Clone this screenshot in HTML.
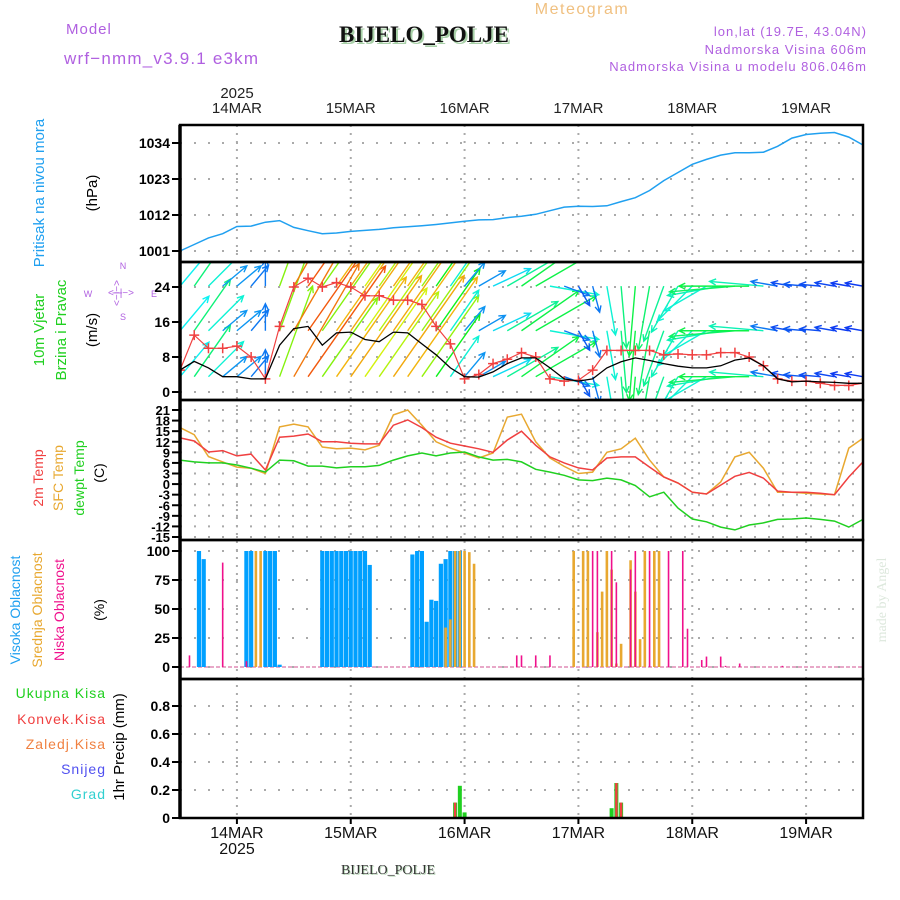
<!DOCTYPE html>
<html><head><meta charset="utf-8">
<style>
html,body{margin:0;padding:0;background:#fff;}
#wrap{position:relative;width:900px;height:900px;overflow:hidden;font-family:"Liberation Sans",sans-serif;}
svg{position:absolute;left:0;top:0;}
</style></head>
<body>
<div id="wrap">
<svg id="chart" width="900" height="900" viewBox="0 0 900 900" font-family="Liberation Sans, sans-serif">
  <defs>
    <clipPath id="clipWind"><rect x="180" y="262" width="683" height="138"/></clipPath>
  </defs>
  <text x="66" y="34" font-size="15" fill="#b060e0" letter-spacing="1">Model</text>
  <text x="64" y="64" font-size="17" fill="#b060e0" letter-spacing="1.2">wrf−nmm_v3.9.1 e3km</text>
  <text x="582" y="14" font-size="16" fill="#f0c080" text-anchor="middle" letter-spacing="1.5">Meteogram</text>
  <text x="426" y="44" font-size="23" font-weight="bold" font-family="Liberation Serif, serif" fill="#a8d0a8" text-anchor="middle">BIJELO_POLJE</text>
  <text x="424" y="42" font-size="23" font-weight="bold" font-family="Liberation Serif, serif" fill="#111" text-anchor="middle">BIJELO_POLJE</text>
  <text x="867" y="36" font-size="13" fill="#b060e0" text-anchor="end" letter-spacing="1">lon,lat (19.7E, 43.04N)</text>
  <text x="867" y="54" font-size="13" fill="#b060e0" text-anchor="end" letter-spacing="1">Nadmorska Visina 606m</text>
  <text x="867" y="71" font-size="13" fill="#b060e0" text-anchor="end" letter-spacing="1">Nadmorska Visina u modelu 806.046m</text>
  <text x="237" y="98" font-size="15" fill="#222" text-anchor="middle">2025</text>

  <text transform="translate(44,193) rotate(-90)" font-size="15" fill="#20a0f0" text-anchor="middle">Pritisak na nivou mora</text>
  <text transform="translate(97,193) rotate(-90)" font-size="15" fill="#000" text-anchor="middle">(hPa)</text>
  <text transform="translate(44,330) rotate(-90)" font-size="15" fill="#20d020" text-anchor="middle">10m Vjetar</text>
  <text transform="translate(66,330) rotate(-90)" font-size="15" fill="#20d020" text-anchor="middle">Brzina i Pravac</text>
  <text transform="translate(97,330) rotate(-90)" font-size="15" fill="#000" text-anchor="middle">(m/s)</text>
  <g fill="#b060e0" font-size="9" text-anchor="middle">
    <text x="123" y="269">N</text><text x="123" y="320">S</text><text x="88" y="297">W</text><text x="154" y="297">E</text>
    <text transform="translate(120,293) rotate(-90)" font-size="10">&lt;−|−&gt;</text>
    <text x="121" y="296" font-size="10">&lt;−|−&gt;</text>
  </g>
  <text transform="translate(43,478) rotate(-90)" font-size="14" fill="#f04040" text-anchor="middle">2m Temp</text>
  <text transform="translate(63,478) rotate(-90)" font-size="14" fill="#e8a830" text-anchor="middle">SFC Temp</text>
  <text transform="translate(84,478) rotate(-90)" font-size="14" fill="#20d020" text-anchor="middle">dewpt Temp</text>
  <text transform="translate(104,473) rotate(-90)" font-size="14" fill="#000" text-anchor="middle">(C)</text>
  <text transform="translate(20,610) rotate(-90)" font-size="14" fill="#20a0f0" text-anchor="middle">Visoka Oblacnost</text>
  <text transform="translate(42,610) rotate(-90)" font-size="14" fill="#e8a830" text-anchor="middle">Srednja Oblacnost</text>
  <text transform="translate(64,610) rotate(-90)" font-size="14" fill="#f0108c" text-anchor="middle">Niska Oblacnost</text>
  <text transform="translate(104,610) rotate(-90)" font-size="14" fill="#000" text-anchor="middle">(%)</text>
  <g font-size="14" text-anchor="end" letter-spacing="1">
    <text x="106" y="698" fill="#20d020">Ukupna Kisa</text>
    <text x="106" y="724" fill="#f04040">Konvek.Kisa</text>
    <text x="106" y="749" fill="#f08040">Zaledj.Kisa</text>
    <text x="106" y="774" fill="#5050f0">Snijeg</text>
    <text x="106" y="799" fill="#30d0d0">Grad</text>
  </g>
  <text transform="translate(124,747) rotate(-90)" font-size="15" fill="#000" text-anchor="middle">1hr Precip (mm)</text>
  <text transform="translate(886,600) rotate(-90)" font-size="14" fill="#dde8dd" text-anchor="middle" font-family="Liberation Serif, serif">made by Angel</text>
  <text x="237" y="854" font-size="16" fill="#111" text-anchor="middle">2025</text>
  <text x="389" y="875" font-size="14" fill="#b8d8b8" font-family="Liberation Serif, serif" text-anchor="middle">BIJELO_POLJE</text>
  <text x="388" y="874" font-size="14" fill="#333" font-family="Liberation Serif, serif" text-anchor="middle">BIJELO_POLJE</text>
  <g id="plot"></g>
</svg>
</div>
<script>
// ---- data (3-hourly, hour 0 = 13 MAR 12 UTC) ----
const hours = [0,3,6,9,12,15,18,21,24,27,30,33,36,39,42,45,48,51,54,57,60,63,66,69,72,75,78,81,84,87,90,93,96,99,102,105,108,111,114,117,120,123,126,129,132,135,138,141,144];
const dayLabels = ["14MAR","15MAR","16MAR","17MAR","18MAR","19MAR"];
const dayHours = [12,36,60,84,108,132];
const pressure = [1001,1003,1005,1006.3,1008.5,1008.6,1009.8,1010.3,1008.2,1007.2,1006.3,1006.5,1007,1007.3,1007.6,1008.1,1008.4,1008.7,1009.1,1009.6,1010.1,1010.5,1010.6,1011.2,1011.6,1012.2,1013.3,1014.4,1014.7,1014.6,1014.8,1016.1,1017.3,1019.5,1022.5,1025,1027.5,1029,1030.3,1031,1031,1031.2,1033,1035.5,1036.6,1037,1037.2,1035.8,1033.4];
const pressTicks = [1001,1012,1023,1034];
const windSpeed = [5,7,5.5,3.5,3.5,3,3,10.7,14.5,15,10.7,13.5,13.7,12,11.5,13.7,13.5,11,8.5,5.5,3.5,3.4,4.6,6.5,7.8,7.8,5.5,3,2.5,3,5.5,6.9,7.8,7.2,6.5,5.9,5.5,5.5,6,7.3,7.8,6,3,2.3,2.5,2.3,2.2,2,2];
const windGust = [5,13,10,10,10.5,8,3,15,24,26,24,25,24,22,22,21,21,20,15,11,3,4,6.5,7.5,9,8,3,2.5,2.7,5,9.5,9.5,9.5,9.5,8.5,8.7,8.5,8.5,9,9,8,6,3,2.5,2.5,2,1.5,1.5,2];
const windDir = [220,215,225,230,230,220,180,200,210,215,215,215,215,215,215,215,215,215,215,215,220,240,245,240,235,240,280,290,330,345,350,355,5,10,20,30,45,60,80,85,90,95,100,100,95,95,100,100,100];
const windTicks = [0,8,16,24];
const arrowRows = [24.2,14,3.5];
const temp2m = [13.1,12.2,9.1,9.5,8,8.5,4,13.3,13.6,14.2,12,12,11.6,11.4,11.4,16.7,18.2,16,13.3,11.6,10.8,10,9,12.5,15,11,7.7,6,4.6,4,7.4,7.7,7.7,4.8,2,0.3,-2.3,-2.8,-0.3,2.2,3.3,1.7,-2,-2.3,-2.3,-2.6,-3,2,6.3];
const tempSfc = [16,14,7.8,6.3,4.8,4.5,3,16.2,17,16.2,10.5,10,10.2,9.7,11,19.6,21,16.7,12,10.2,8.8,7.4,8.8,19,19.8,12,7.4,5,3,3.4,9,10,13,6.8,2,0.3,-2.3,-2.8,0.6,7.7,9,4.5,-2.3,-2.3,-2.6,-2.8,-3,10.2,13];
const dewpoint = [6.8,6.3,6,6,5.4,4.5,3.4,6.8,6.6,5.1,5.1,4.6,4.9,4.9,5.3,6.8,8,8.8,8,8.8,9.1,7.7,6.8,7,6.3,4.2,3.4,2.5,1.2,1,1.7,1.2,-0.4,-3.6,-2.3,-6.8,-9.9,-10.7,-12.2,-13,-11.6,-11,-10,-9.9,-9.6,-10,-10.5,-12.2,-10];
const tempTicks = [21,18,15,12,9,6,3,0,-3,-6,-9,-12,-15];
const highCloudHours = [4,5,14,15,18,19,20,21,30,31,32,33,34,35,36,37,38,39,40,49,50,51,52,53,54,55,56,57,58,59];
const highCloudVals = [100,93,100,100,100,100,100,2,100,100,100,100,100,100,100,100,100,100,88,97,100,100,39,58,57,89,93,100,100,100];
const midCloudHours = [16,17,56,57,58,59,60,61,62,83,85,86,88,89,90,91,92,93,95,96,97,98,100,101];
const midCloudVals = [100,100,34,41,100,100,100,99,89,100,100,100,30,65,100,84,3,20,92,65,24,100,100,100];
const lowCloudHours = [2,9,14,71,72,75,78,87,88,91,92,95,96,99,103,106,107,110,111,114,115,118,127];
const lowCloudVals = [10,90,5,10,10,10,10,100,100,100,73,84,100,100,100,100,33,6,9,9,1,3,1];
const cloudTicks = [0,25,50,75,100];
const precipHours = [20,21,58,59,60,91,92,93];
const precipTotal = [0.005,0.005,0.11,0.23,0.04,0.07,0.25,0.11];
const precipConv = [0,0,0.11,0,0,0,0.25,0.11];
const precipTicks = [0,0.2,0.4,0.6,0.8];
const precipTickLabels = ["0","0.2","0.4","0.6","0.8"];

const X0 = 180, X1 = 863;
function xH(h){ return X0 + h*(X1-X0)/144; }
function yP(v){ return 251-(v-1001)*108/33; }
function yW(v){ return 392-v*105/24; }
function yT(v){ return 410+(21-v)*127/36; }
function yC(v){ return 667-v*1.16; }
function yR(v){ return 818-v*140; }
const panels = [[125,262,'pressure'],[262,400,'wind'],[400,540,'temperature'],[540,679,'cloud'],[679,818,'precip']];

const NS='http://www.w3.org/2000/svg';
const plot=document.getElementById('plot');
function mk(tag, attrs, parent){
  const e=document.createElementNS(NS,tag);
  for(const k in attrs) e.setAttribute(k,attrs[k]);
  (parent||plot).appendChild(e);
  return e;
}
function poly(vals, yf){ return hours.map((h,i)=>xH(h).toFixed(1)+','+yf(vals[i]).toFixed(1)).join(' '); }

for(let d=0; d<dayHours.length; d++){
  const x=xH(dayHours[d]);
  const g=mk('line',{x1:x,x2:x,y1:125,y2:818,stroke:'#aaa','stroke-width':2,'stroke-dasharray':'2,6'});
  
  
  const t=mk('text',{x:x,y:113,'font-size':15,fill:'#222','text-anchor':'middle'});
  t.textContent=dayLabels[d];
  
  
  const b=mk('text',{x:x,y:838,'font-size':16,fill:'#111','text-anchor':'middle'});
  b.textContent=dayLabels[d];
  
  
  const tk=mk('line',{x1:x,x2:x,y1:818,y2:824,stroke:'#000','stroke-width':2});
  
  
}
function hgrid(ticks, yf, labels, name, fs){
  ticks.forEach((v,i)=>{
    const y=yf(v);
    const g=mk('line',{x1:180,x2:863,y1:y,y2:y,stroke:'#aaa','stroke-width':2,'stroke-dasharray':'2,12'});
    
    
    const tk=mk('line',{x1:172,x2:180,y1:y,y2:y,stroke:'#000','stroke-width':2});
    
    
    const t=mk('text',{x:170,y:y+5,'font-size':fs,'font-weight':'bold',fill:'#000','text-anchor':'end'});
    t.textContent=labels?labels[i]:String(v);
    
    
  });
}
hgrid(pressTicks,yP,null,'pressure-y',14);
hgrid(windTicks,yW,null,'wind-y',14);
hgrid(tempTicks,yT,null,'temp-y',13);
hgrid(cloudTicks,yC,null,'cloud-y',14);
hgrid(precipTicks,yR,precipTickLabels,'precip-y',14);

const pl=mk('polyline',{points:poly(pressure,yP),fill:'none',stroke:'#20a0f0','stroke-width':1.5});



const wg=mk('g',{'clip-path':'url(#clipWind)'});


hours.forEach((h,i)=>{
  const len=windSpeed[i]*9;
  const to=(windDir[i]+180)*Math.PI/180;
  const dx=Math.sin(to)*len, dy=-Math.cos(to)*len;
  const hue=Math.max(20,Math.min(270,260-windSpeed[i]*16));
  const col='hsl('+hue+',90%,50%)';
  arrowRows.forEach(r=>{
    const x=xH(h), y=yW(r);
    const ex=x+dx, ey=y+dy;
    const a=Math.atan2(dy,dx);
    const d='M'+x+','+y+'L'+ex+','+ey+
      'M'+(ex-7*Math.cos(a-0.45))+','+(ey-7*Math.sin(a-0.45))+'L'+ex+','+ey+
      'L'+(ex-7*Math.cos(a+0.45))+','+(ey-7*Math.sin(a+0.45));
    const p=mk('path',{d:d,fill:'none',stroke:col,'stroke-width':1.4},wg);
    
    
  });
});
const gl=mk('polyline',{points:poly(windGust,yW),fill:'none',stroke:'#f04040','stroke-width':1.2,'clip-path':'url(#clipWind)'});


hours.forEach((h,i)=>{
  const x=xH(h), y=yW(windGust[i]);
  const m=mk('path',{d:'M'+(x-5)+','+y+'h10M'+x+','+(y-5)+'v10',stroke:'#f04040','stroke-width':1.5,'clip-path':'url(#clipWind)'});
  
  
});
const sl=mk('polyline',{points:poly(windSpeed,yW),fill:'none',stroke:'#000','stroke-width':1.3});



const ts=mk('polyline',{points:poly(tempSfc,yT),fill:'none',stroke:'#e8a830','stroke-width':1.5});


const t2=mk('polyline',{points:poly(temp2m,yT),fill:'none',stroke:'#f04040','stroke-width':1.5});


const td=mk('polyline',{points:poly(dewpoint,yT),fill:'none',stroke:'#20d020','stroke-width':1.5});



const cb=mk('line',{x1:180,x2:863,y1:667,y2:667,stroke:'#e8a8c8','stroke-width':2,'stroke-dasharray':'4,2'});


highCloudHours.forEach((h,i)=>{
  const r=mk('rect',{x:xH(h)-2.1,y:yC(highCloudVals[i]),width:4.2,height:667-yC(highCloudVals[i]),fill:'#00a0ff'});
  
  
});
midCloudHours.forEach((h,i)=>{
  const r=mk('rect',{x:xH(h)-1.3,y:yC(midCloudVals[i]),width:2.6,height:667-yC(midCloudVals[i]),fill:'#e8a830'});
  
  
});
lowCloudHours.forEach((h,i)=>{
  const r=mk('rect',{x:xH(h)-0.8,y:yC(lowCloudVals[i]),width:1.6,height:667-yC(lowCloudVals[i]),fill:'#f0108c'});
  
  
});

precipHours.forEach((h,i)=>{
  const r=mk('rect',{x:xH(h)-2,y:yR(precipTotal[i]),width:4,height:818-yR(precipTotal[i]),fill:'#20d020'});
  
  
  if(precipConv[i]>0){
    const c=mk('rect',{x:xH(h)-1.2,y:yR(precipConv[i]),width:2.4,height:818-yR(precipConv[i]),fill:'#f04040'});
    
    
  }
});

panels.forEach(p=>{
  const r=mk('rect',{x:180,y:p[0],width:683,height:p[1]-p[0],fill:'none',stroke:'#000','stroke-width':2.5});
  
  
});
const ax=mk('line',{x1:180,x2:180,y1:125,y2:818,stroke:'#000','stroke-width':3.5});


</script>
</body></html>
